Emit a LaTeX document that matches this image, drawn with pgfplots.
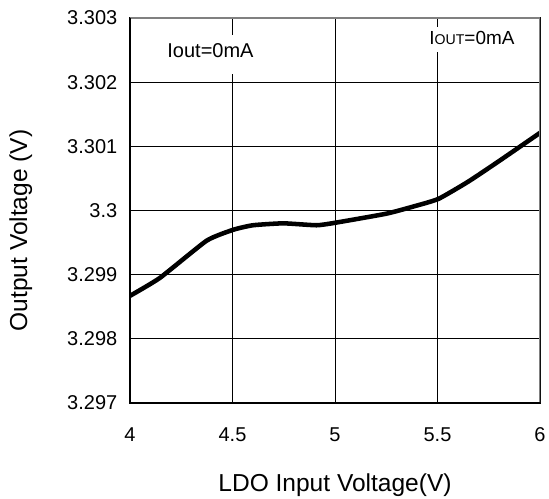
\documentclass[border=0pt]{standalone}
\usepackage{fontspec}
\setmainfont{Liberation Sans}
\usepackage{pgfplots}
\pgfplotsset{compat=1.18}
\begin{document}
\begin{tikzpicture}
\useasboundingbox (-97.5pt,-72pt) rectangle (314.25pt,302.25pt);
\begin{axis}[
  at={(0,0)}, anchor=south west,
  scale only axis,
  width=307.5pt, height=288.75pt,
  xmin=4, xmax=6, ymin=3.297, ymax=3.303,
  xtick={4,4.5,5,5.5,6},
  xticklabels={4,4.5,5,5.5,6},
  ytick={3.297,3.298,3.299,3.3,3.301,3.302,3.303},
  yticklabels={3.297,3.298,3.299,3.3,3.301,3.302,3.303},
  major tick length=0pt,
  tick label style={font=\fontsize{15}{18}\selectfont},
  xticklabel style={yshift=-15pt},
  yticklabel style={xshift=-6pt},
  grid=major,
  major grid style={black, line width=0.75pt},
  axis line style={black, line width=0.9pt},
  every axis x label/.style={at={(rel axis cs:0.5,0)}, anchor=center, yshift=-61.5pt},
  every axis y label/.style={at={(rel axis cs:0,0.5)}, xshift=-82pt, yshift=-15pt, rotate=90, anchor=center},
  label style={font=\fontsize{18.4}{22}\selectfont},
  xlabel={LDO Input Voltage(V)},
  ylabel={Output Voltage (V)},
]
\addplot[black, line width=3.4pt, smooth, tension=0.3, line join=round, line cap=round] coordinates {
  (4.0,3.29867) (4.146,3.29895) (4.374,3.29953) (4.504,3.29970)
  (4.60,3.29977) (4.748,3.29980) (4.91,3.29977) (5.003,3.29981)
  (5.25,3.29995) (5.38,3.30006) (5.504,3.30018) (5.65,3.30045)
  (5.80,3.30077) (6.0,3.30121)
};
\draw[gray, line width=1pt] (rel axis cs:0,1) -- (rel axis cs:1,1) -- (rel axis cs:1,0);
\draw[black, line width=1pt] (rel axis cs:0,1) -- (rel axis cs:0,0) -- (rel axis cs:1,0);
\node[fill=white, anchor=base, inner xsep=4pt, inner ysep=0pt, text depth=12pt, text height=17pt,
  font=\fontsize{15}{18}\selectfont] at (axis cs:4.3927,3.302377) {Iout=0mA};
\node[fill=white, anchor=base, inner xsep=3pt, inner ysep=0pt, text depth=5pt, text height=13.5pt,
  font=\fontsize{14.2}{16}\selectfont] at (axis cs:5.668,3.30258) {I{\fontsize{10.6}{12}\selectfont OUT}=0mA};
\end{axis}
\end{tikzpicture}
\end{document}
